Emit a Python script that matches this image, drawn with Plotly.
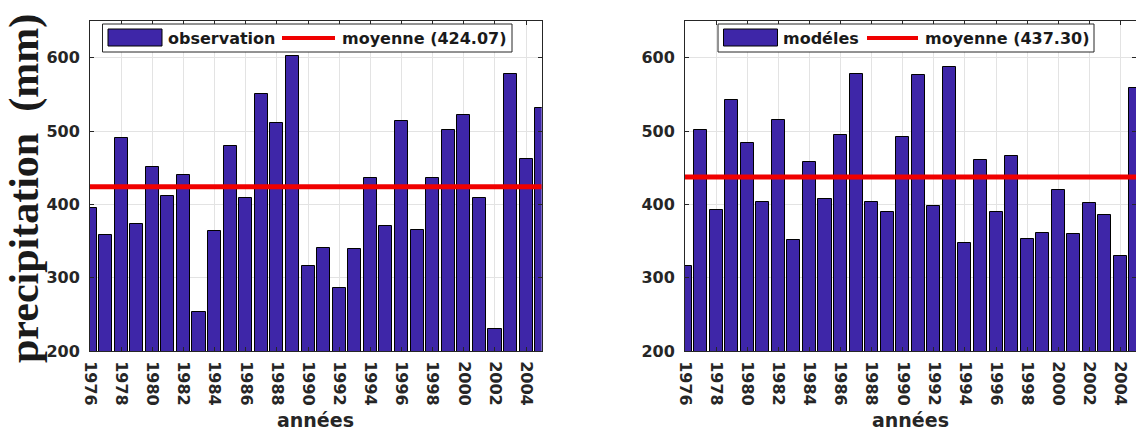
import plotly.graph_objects as go

# Annual precipitation totals (mm), 1976-2005
years = list(range(1976, 2006))
observation = [395, 358, 490, 373, 451, 412, 440, 253, 364, 479,
               408, 550, 511, 602, 316, 341, 286, 339, 436, 370,
               513, 365, 436, 501, 522, 408, 230, 578, 462, 532]
modeles = [316, 501, 392, 542, 484, 403, 515, 351, 458, 407,
           494, 578, 403, 390, 492, 576, 398, 587, 347, 460,
           389, 466, 353, 361, 419, 360, 402, 386, 330, 559]
obs_mean = 424.07
mod_mean = 437.30
x_ticks = years[0:29:2]
y_ticks = [200, 300, 400, 500, 600]

W, H = 1136, 432
TOP, BOTTOM = 21, 351
BAR_COLOR = "#3E26A8"
AX_COLOR = "#262626"
GRID_COLOR = "#e3e3e3"
TICK_FONT = dict(family="DejaVu Sans", size=16, color=AX_COLOR, weight="bold")

panels = [
    dict(x0=90, x1=541.7, name="observation", values=observation, mean=obs_mean,
         legend=dict(box=(102.5, 512), patch=166, line=(282, 335), text2=340)),
    dict(x0=685, x1=1136, name="modéles", values=modeles, mean=mod_mean,
         legend=dict(box=(718, 1094), patch=781, line=(867, 918), text2=923)),
]


def px(x, y):
    """Pixel position -> paper coordinates (margins l=r=0, t=TOP, b=H-BOTTOM)."""
    return x / W, (BOTTOM - y) / (BOTTOM - TOP)


fig = go.Figure()
shapes, annotations = [], []

for i, p in enumerate(panels):
    sfx = "" if i == 0 else str(i + 1)
    xa, ya = "x" + sfx, "y" + sfx
    fig.add_trace(go.Bar(
        x=years, y=p["values"], width=0.84, name=p["name"],
        marker=dict(color=BAR_COLOR, line=dict(color="black", width=1)),
        xaxis=xa, yaxis=ya, showlegend=False,
    ))
    fig.add_trace(go.Scatter(
        x=[years[0], years[-1]], y=[p["mean"], p["mean"]], mode="lines",
        name=f"moyenne ({p['mean']:.2f})",
        line=dict(color="#f00000", width=5),
        xaxis=xa, yaxis=ya, showlegend=False,
    ))

    axis_common = dict(
        showline=True, linecolor=AX_COLOR, linewidth=1, mirror="allticks",
        ticks="inside", ticklen=4, tickcolor=AX_COLOR,
        showgrid=True, gridcolor=GRID_COLOR, gridwidth=1,
        zeroline=False, tickfont=TICK_FONT, automargin=False,
    )
    fig.update_layout(**{
        "xaxis" + sfx: dict(
            axis_common, domain=[p["x0"] / W, p["x1"] / W],
            range=[years[0], years[-1]], tickvals=x_ticks, tickangle=90,
            ticklabelstandoff=6, anchor=ya,
        ),
        "yaxis" + sfx: dict(
            axis_common, range=[200, 650], tickvals=y_ticks,
            ticklabelstandoff=6, anchor=xa,
        ),
    })

    # axis title under each panel
    cx, cy = px((p["x0"] + p["x1"]) / 2, 420)
    annotations.append(dict(text="années", x=cx, y=cy, xref="paper", yref="paper",
                            xanchor="center", yanchor="middle", showarrow=False,
                            font=dict(family="DejaVu Sans", size=19, color=AX_COLOR,
                                      weight="bold")))

    # legend box in the upper part of each panel
    lg = p["legend"]
    bx0, by0 = px(lg["box"][0], 24)
    bx1, by1 = px(lg["box"][1], 52)
    shapes.append(dict(type="rect", xref="paper", yref="paper",
                       x0=bx0, x1=bx1, y0=by1, y1=by0,
                       fillcolor="white", line=dict(color=AX_COLOR, width=1)))
    pbx0, pby0 = px(lg["box"][0] + 5.5, 29)
    pbx1, pby1 = px(lg["box"][0] + 59.5, 46)
    shapes.append(dict(type="rect", xref="paper", yref="paper",
                       x0=pbx0, x1=pbx1, y0=pby1, y1=pby0,
                       fillcolor=BAR_COLOR, line=dict(color="black", width=1)))
    lx0, ly = px(lg["line"][0], 38)
    lx1, _ = px(lg["line"][1], 38)
    shapes.append(dict(type="line", xref="paper", yref="paper",
                       x0=lx0, x1=lx1, y0=ly, y1=ly,
                       line=dict(color="#f00000", width=4)))
    leg_font = dict(family="DejaVu Sans", size=16, color="#1a1a1a", weight="bold")
    tx, ty = px(lg["patch"], 38)
    annotations.append(dict(text=p["name"], x=tx, y=ty, xref="paper", yref="paper",
                            xanchor="left", yanchor="middle", showarrow=False, font=leg_font))
    tx2, _ = px(lg["text2"], 38)
    annotations.append(dict(text=f"moyenne ({p['mean']:.2f})", x=tx2, y=ty,
                            xref="paper", yref="paper", xanchor="left",
                            yanchor="middle", showarrow=False, font=leg_font))

# shared vertical axis label on the left
ax_, ay_ = px(25, 189)
annotations.append(dict(text="precipitation  (mm)", x=ax_, y=ay_, xref="paper", yref="paper",
                        textangle=-90, showarrow=False, xanchor="center", yanchor="middle",
                        font=dict(family="Liberation Serif", size=42, color="#1a1a1a",
                                  weight="bold")))

fig.update_layout(
    width=W, height=H,
    margin=dict(l=0, r=0, t=TOP, b=H - BOTTOM),
    paper_bgcolor="white", plot_bgcolor="white",
    bargap=0, shapes=shapes, annotations=annotations,
    showlegend=False,
)

fig.write_html("out.html")
